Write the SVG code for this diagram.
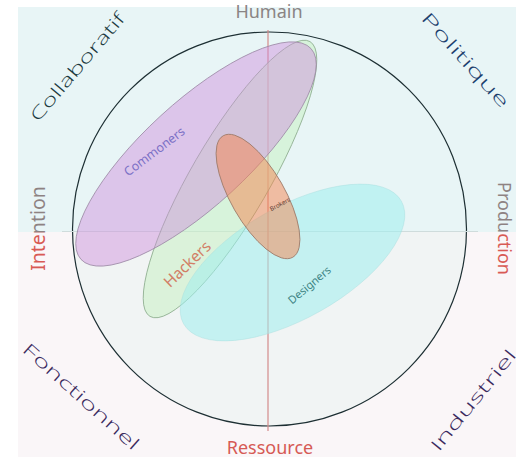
<svg xmlns="http://www.w3.org/2000/svg" width="516" height="457" viewBox="0 0 516 457">
<defs>
<style>
.lbl{font-family:"Noto Sans","Open Sans","DejaVu Sans",sans-serif;}
.corner{font-family:"Open Sans","Noto Sans","DejaVu Sans",sans-serif;font-size:17px;font-weight:300;}
.el{stroke-width:0.8;}
</style>
<linearGradient id="gInt" gradientUnits="userSpaceOnUse" x1="-5" y1="0" x2="-3" y2="0">
<stop offset="0.49" stop-color="#d85a55"/><stop offset="0.51" stop-color="#8e8282"/>
</linearGradient>
<linearGradient id="gProd" gradientUnits="userSpaceOnUse" x1="3" y1="0" x2="5" y2="0">
<stop offset="0.49" stop-color="#8e8282"/><stop offset="0.51" stop-color="#d85a55"/>
</linearGradient>
<clipPath id="bottomHalf"><rect x="0" y="232" width="516" height="230"/></clipPath>
</defs>

<g id="background">
<rect x="18" y="7" width="498" height="450" fill="#faf6f8"/>
<circle cx="269.5" cy="229" r="197" fill="#f1f4f4" clip-path="url(#bottomHalf)"/>
<rect x="18" y="7" width="498" height="225" fill="#e8f5f6"/>
<circle cx="269.5" cy="229" r="197" fill="none" stroke="#1d2f33" stroke-width="1.2"/>
</g>

<g id="connectors">
<line x1="62" y1="231.5" x2="478" y2="231.5" stroke="#cfdcdc" stroke-width="1"/>
<line x1="268" y1="30" x2="268" y2="431" stroke="#d48a8a" stroke-opacity="0.6" stroke-width="2"/>
</g>

<g id="hackers">
<ellipse class="el" cx="230" cy="179" rx="159" ry="39" transform="rotate(-59.8 230 179)" fill="#c9f0c4" fill-opacity="0.55" stroke="#8fae90"/>
</g>
<g id="commoners">
<ellipse class="el" cx="196" cy="154" rx="156" ry="52" transform="rotate(-42.5 196 154)" fill="#cf8cdc" fill-opacity="0.45" stroke="#9d8aa6"/>
</g>
<g id="designers">
<ellipse class="el" cx="292.5" cy="262.5" rx="125" ry="56" transform="rotate(-29.4 292.5 262.5)" fill="#9eeeee" fill-opacity="0.55" stroke="#a8dede" stroke-opacity="0.5"/>
</g>
<g id="brokers">
<ellipse class="el" cx="258" cy="196.5" rx="70" ry="27" transform="rotate(60.2 258 196.5)" fill="#f5844e" fill-opacity="0.5" stroke="#9c7a6a"/>
</g>

<g id="node-labels">
<text class="lbl" x="0" y="0" transform="translate(157 155) rotate(-37)" text-anchor="middle" font-size="12.5" fill="#7b70c6">Commoners</text>
<text class="lbl" x="0" y="0" transform="translate(191 268) rotate(-44)" text-anchor="middle" font-size="15.5" fill="#d27e66">Hackers</text>
<text class="lbl" x="0" y="0" transform="translate(281 206) rotate(-28)" text-anchor="middle" font-size="6" fill="#5a3a30">Brokers</text>
<text class="lbl" x="0" y="0" transform="translate(312 288) rotate(-40)" text-anchor="middle" font-size="11" fill="#3f8585">Designers</text>
</g>

<g id="axis-labels">
<text class="lbl" x="269" y="17.5" text-anchor="middle" font-size="18" fill="#8a8484">Humain</text>
<text class="lbl" x="270" y="453.5" text-anchor="middle" font-size="18" fill="#d65a55">Ressource</text>
<text class="lbl" x="0" y="0" transform="translate(45 228.5) rotate(-90)" text-anchor="middle" font-size="19.5" fill="url(#gInt)">Intention</text>
<text class="lbl" x="0" y="0" transform="translate(498 228.5) rotate(90)" text-anchor="middle" font-size="18" fill="url(#gProd)">Production</text>
</g>

<g id="corner-labels">
<text class="corner" x="0" y="0" transform="translate(82 71) rotate(-49.7)" text-anchor="middle" textLength="136" lengthAdjust="spacingAndGlyphs" fill="#1b3a40">Collaboratif</text>
<text class="corner" x="0" y="0" transform="translate(461 64) rotate(48)" text-anchor="middle" textLength="122" lengthAdjust="spacingAndGlyphs" fill="#1c3f6e">Politique</text>
<text class="corner" x="0" y="0" transform="translate(77 401) rotate(42)" text-anchor="middle" textLength="150" lengthAdjust="spacingAndGlyphs" fill="#3a2a5e">Fonctionnel</text>
<text class="corner" x="0" y="0" transform="translate(478 404) rotate(-51)" text-anchor="middle" textLength="125" lengthAdjust="spacingAndGlyphs" fill="#3a2a5e">Industriel</text>
</g>
</svg>
